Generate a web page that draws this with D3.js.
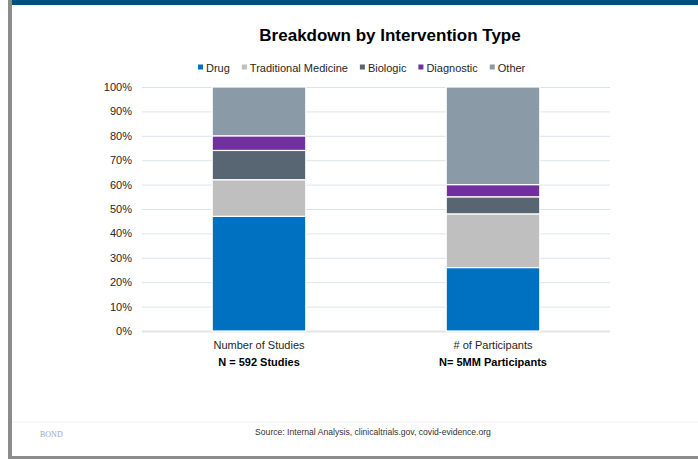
<!DOCTYPE html>
<html><head><meta charset="utf-8">
<script src="https://cdn.jsdelivr.net/npm/d3@7"></script>
<style>body{margin:0;background:#fff}svg{display:block}</style>
</head><body>
<svg id="c" width="698" height="459"></svg>
<script>
const categories = ["Number of Studies", "# of Participants"];
const subLabels = ["N = 592 Studies", "N= 5MM Participants"];
const seriesNames = ["Drug", "Traditional Medicine", "Biologic", "Diagnostic", "Other"];
const drug = [47, 26];
const traditional = [15, 22];
const biologic = [12, 7];
const diagnostic = [6, 5];
const other = [20, 40];
const tickValues = [0,10,20,30,40,50,60,70,80,90,100];
const colors = ["#0070C0", "#BFBFBF", "#586674", "#7030A0", "#8A9AA7"];

const svg = d3.select("#c");
const font = "'Liberation Sans', Arial, sans-serif";

// frame
svg.append("rect").attr("x",12).attr("y",0).attr("width",686).attr("height",5).attr("fill","#00507D");
svg.append("rect").attr("x",8).attr("y",0).attr("width",4).attr("height",459).attr("fill","#8C8C8C");
svg.append("rect").attr("x",8).attr("y",456).attr("width",690).attr("height",3).attr("fill","#8C8C8C");
svg.append("line").attr("x1",12).attr("x2",698).attr("y1",422).attr("y2",422).attr("stroke","#F0F0F0").attr("stroke-width",1);

svg.append("text").attr("x",390).attr("y",41).attr("text-anchor","middle")
  .attr("font-family",font).attr("font-weight","bold").attr("font-size",17).attr("fill","#000")
  .text("Breakdown by Intervention Type");

const rows = categories.map((c,i)=>({cat:c, Drug:drug[i], "Traditional Medicine":traditional[i], Biologic:biologic[i], Diagnostic:diagnostic[i], Other:other[i]}));
const stack = d3.stack().keys(seriesNames)(rows);

const x = d3.scaleBand().domain(categories).range([142,610]).paddingInner(0.6).paddingOuter(0.3);
const y = d3.scaleLinear().domain([0,100]).range([331,87]);

// gridlines
svg.append("g").selectAll("line").data(tickValues).join("line")
  .attr("x1",142).attr("x2",610).attr("y1",d=>y(d)+0.5).attr("y2",d=>y(d)+0.5)
  .attr("stroke",d=>d===0?"#E4E4E4":"#DDE2EA").attr("stroke-width",d=>d===0?2:1);

const yAxis = svg.append("g").attr("transform","translate(138,0)")
  .call(d3.axisLeft(y).tickValues(tickValues).tickFormat(d=>d+"%").tickSize(0).tickPadding(6));
yAxis.select(".domain").remove();
yAxis.selectAll("text").attr("font-family",font).attr("font-size",11).attr("fill","#262626");

svg.append("g").selectAll("g").data(stack).join("g").attr("fill",(d,i)=>colors[i])
  .selectAll("rect").data(d=>d).join("rect")
  .attr("x",d=>x(d.data.cat)).attr("width",x.bandwidth())
  .attr("y",d=>y(d[1])).attr("height",d=>y(d[0])-y(d[1]))
  .attr("stroke","#fff").attr("stroke-width",1.2);

const xl = svg.append("g");
categories.forEach((c,i)=>{
  const cx = x(c)+x.bandwidth()/2;
  xl.append("text").attr("x",cx).attr("y",349).attr("text-anchor","middle")
    .attr("font-family",font).attr("font-size",11).attr("fill","#262626").text(c);
  xl.append("text").attr("x",cx).attr("y",366).attr("text-anchor","middle")
    .attr("font-family",font).attr("font-size",11).attr("font-weight","bold").attr("fill","#000").text(subLabels[i]);
});

// legend
const leg = svg.append("g");
let lx = 198;
seriesNames.forEach((n,i)=>{
  leg.append("rect").attr("x",lx).attr("y",64.5).attr("width",5).attr("height",5).attr("fill",colors[i]);
  const t = leg.append("text").attr("x",lx+8).attr("y",71.5).attr("font-family",font).attr("font-size",11).attr("fill","#262626").text(n);
  lx += 8 + t.node().getComputedTextLength() + 12;
});

svg.append("text").attr("x",373).attr("y",435).attr("text-anchor","middle")
  .attr("font-family",font).attr("font-size",8.6).attr("fill","#333")
  .text("Source: Internal Analysis, clinicaltrials.gov, covid-evidence.org");
svg.append("text").attr("x",40).attr("y",437)
  .attr("font-family","'Liberation Serif', serif").attr("font-size",8).attr("fill","#A6A6A6")
  .text("BOND");
</script>
</body></html>
